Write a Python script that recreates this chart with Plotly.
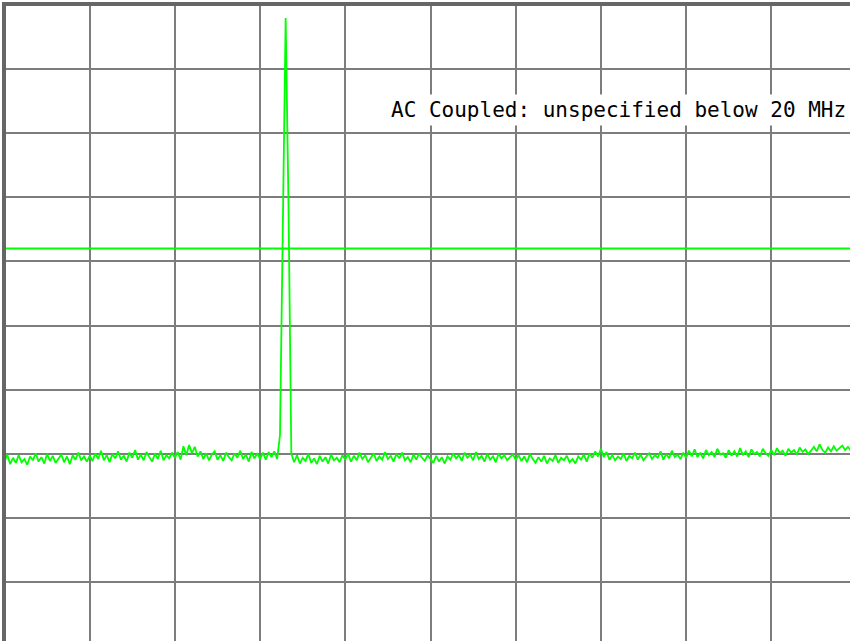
import plotly.graph_objects as go

# Sweep settings: 0-1000 MHz, 301 points, reference level 0 dBm, 10 dB/div
start_mhz = 0.0
stop_mhz = 1000.0
ref_level_dbm = 0.0
db_per_div = 10.0
display_line_dbm = -38.0
note_text = "AC Coupled: unspecified below 20 MHz"

# Measured trace (dBm), one value per sweep point
level_dbm = [
    -71.2, -70.1, -71.6, -70.6, -71.4, -70.2, -71.3, -70.8, -71.7, -70.4,
    -71.0, -69.9, -71.2, -70.5, -71.5, -70.0, -71.1, -70.3, -71.4, -70.7,
    -70.1, -71.3, -70.4, -71.6, -70.2, -70.9, -69.8, -71.0, -70.4, -71.2,
    -70.3, -71.1, -69.9, -70.8, -69.5, -71.0, -70.2, -71.3, -70.0, -70.7,
    -69.6, -70.9, -70.3, -71.2, -69.8, -70.6, -69.4, -70.9, -70.1, -71.0,
    -69.7, -70.5, -71.2, -69.9, -70.8, -69.5, -71.0, -70.2, -70.7, -69.8,
    -70.6, -69.7, -70.9, -68.8, -70.2, -68.6, -69.9, -68.9, -70.4, -69.6,
    -70.8, -69.9, -71.0, -70.1, -69.6, -70.9, -70.2, -71.1, -69.8, -70.5,
    -71.0, -69.9, -70.6, -69.5, -70.8, -70.1, -71.2, -69.7, -70.7, -69.9,
    -70.8, -69.8, -70.9, -69.7, -70.5, -69.6, -70.8,
    -67.1, -30.6, -2.1, -31.2, -70.0,
    -71.3, -70.2, -71.5, -70.6, -71.1, -70.0, -71.4, -70.7, -71.6,
    -70.3, -71.2, -70.5, -71.5, -70.1, -71.0, -70.6, -71.3, -70.2,
    -70.9, -70.0, -71.2, -70.3, -71.0, -69.8, -70.8, -70.2, -71.3, -70.5,
    -69.9, -71.1, -70.4, -70.9, -69.7, -70.8, -70.3, -71.2, -70.0, -70.7,
    -69.8, -71.0, -70.5, -71.3, -70.1, -70.9, -69.9, -70.6, -71.1, -70.2,
    -70.8, -71.4, -70.3, -71.2, -70.5, -71.5, -70.4, -70.9, -69.9, -70.7,
    -70.2, -71.1, -69.8, -70.6, -70.1, -71.0, -69.7, -70.8, -70.3, -71.2,
    -70.0, -70.9, -70.4, -71.3, -69.9, -70.7, -70.2, -71.0, -70.5, -70.1,
    -70.9, -70.2, -71.1, -70.4, -71.3, -70.0, -70.8, -71.4, -70.5, -71.2,
    -70.3, -71.5, -70.7, -71.1, -70.2, -71.4, -70.6, -71.0, -70.3, -71.3,
    -70.8, -71.5, -70.4, -70.9, -70.1, -71.2, -69.9, -70.6, -69.6, -70.4,
    -69.2, -70.5, -69.7, -70.9, -70.2, -71.0, -70.4, -70.8, -69.9, -71.1,
    -70.3, -70.7, -69.8, -70.9, -70.1, -71.0, -70.4, -69.9, -70.8, -70.2,
    -70.6, -69.6, -70.9, -70.0, -70.7, -69.5, -70.5, -70.1, -70.8, -69.8,
    -70.6, -69.5, -70.4, -69.3, -70.5, -69.8, -70.7, -69.4, -70.2, -69.7,
    -70.5, -69.2, -70.1, -69.9, -70.6, -69.4, -70.3, -69.6, -70.4, -69.1,
    -70.2, -69.6, -70.5, -69.3, -70.0, -69.7, -70.4, -69.2, -69.9, -70.3,
    -69.4, -70.2, -69.1, -69.9, -69.5, -70.3, -69.2, -69.8, -69.4, -70.1,
    -69.0, -69.7, -69.3, -70.0, -69.5, -68.9, -69.6, -68.5, -69.4, -69.8,
    -69.0, -69.6, -68.8, -69.5, -69.1, -68.7, -69.4, -68.9, -69.5, -69.1,
    -69.3,
]

n_points = len(level_dbm)
step = (stop_mhz - start_mhz) / (n_points - 1)
freq_mhz = [start_mhz + i * step for i in range(n_points)]

# Screen geometry (pixels): graticule origin and division size
W, H = 850, 641
origin_px = 4.5
div_w = 85.2
div_h = 64.2
edge = 6  # inner edge of the frame
mhz_per_px = (stop_mhz - start_mhz) / (10 * div_w)
db_per_px = db_per_div / div_h

x_range = [start_mhz + (edge - origin_px) * mhz_per_px,
           start_mhz + (W - origin_px) * mhz_per_px]
y_range = [ref_level_dbm - (H - origin_px) * db_per_px,
           ref_level_dbm - (edge - origin_px) * db_per_px]

grid_color = "#7d7d7d"
frame_color = "#666666"
trace_green = "#00ff00"

fig = go.Figure()
fig.add_trace(go.Scatter(
    x=freq_mhz, y=level_dbm, mode="lines",
    line=dict(color=trace_green, width=1.8),
    hoverinfo="skip", showlegend=False,
))

# Display line
fig.add_shape(type="line", xref="paper", yref="y",
              x0=0, x1=1, y0=display_line_dbm, y1=display_line_dbm,
              line=dict(color=trace_green, width=2), layer="above")

fig.add_annotation(
    text=note_text, xref="paper", yref="y", x=1, xanchor="right",
    y=ref_level_dbm - (110 - origin_px) * db_per_px, yanchor="middle",
    showarrow=False, bgcolor="white", borderpad=3,
    font=dict(family="DejaVu Sans Mono", size=21, color="black"),
)

fig.update_xaxes(
    range=x_range, tick0=start_mhz, dtick=(stop_mhz - start_mhz) / 10,
    showgrid=True, gridcolor=grid_color, gridwidth=2,
    showticklabels=False, ticks="", zeroline=False,
    showline=True, linecolor=frame_color, linewidth=3.5, side="top",
)
fig.update_yaxes(
    range=y_range, tick0=ref_level_dbm, dtick=db_per_div,
    showgrid=True, gridcolor=grid_color, gridwidth=2,
    showticklabels=False, ticks="", zeroline=False,
    showline=True, linecolor=frame_color, linewidth=3.5, side="left",
)

fig.update_layout(
    width=W, height=H,
    margin=dict(l=edge, r=0, t=edge, b=0, pad=0),
    paper_bgcolor="white", plot_bgcolor="white",
    showlegend=False,
)

fig.write_html("out.html", config={"displayModeBar": False})
